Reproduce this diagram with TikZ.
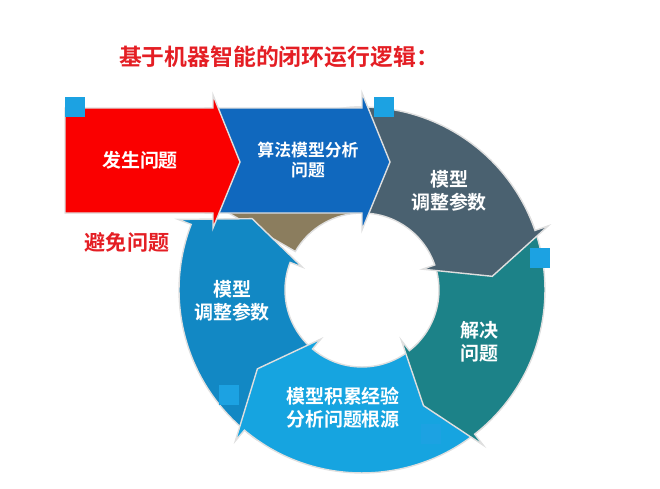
\documentclass[tikz,border=0pt]{standalone}
\usepackage{fontspec}
\newfontfamily\cjk{Noto Sans CJK SC Bold}
\usepackage{xcolor}
\usetikzlibrary{calc}

\definecolor{titlered}{RGB}{228,30,36}
\definecolor{arrowred}{RGB}{250,0,0}
\definecolor{arrowblue}{RGB}{16,104,190}
\definecolor{segslate}{RGB}{74,97,112}
\definecolor{segteal}{RGB}{28,130,136}
\definecolor{segblue}{RGB}{18,136,196}
\definecolor{seglight}{RGB}{22,164,224}
\definecolor{segkhaki}{RGB}{139,125,94}
\definecolor{handlecyan}{RGB}{28,162,226}

\newcommand{\ringRo}{3.66cm}
\newcommand{\ringRi}{1.54cm}
\newcommand{\ringRm}{2.62cm}
\newcommand{\ringSo}{3.94cm}
\newcommand{\ringSi}{1.28cm}
% colour, tail angle, head base angle, head tip angle
\newcommand{\ringpart}[4]{%
  \filldraw[fill=#1, ring] (#2:\ringRo) arc[start angle=#2, end angle=#3, radius=\ringRo]
    -- (#3:\ringSo) -- (#4:\ringRm) -- (#3:\ringSi) -- (#3:\ringRi)
    arc[start angle=#3, end angle=#2, radius=\ringRi] -- cycle;}

\begin{document}
\begin{tikzpicture}[x=0.02cm, y=0.02cm,
    ring/.style={draw=gray!25, line width=0.8pt},
    bararrow/.style={draw=white!75!gray, line width=0.8pt},
    label/.style={text=white, align=center, font=\cjk\fontsize{10.8}{13}\selectfont},
    handle/.style={fill=handlecyan, minimum size=0.4cm, inner sep=0pt}
]
\useasboundingbox (0,0) rectangle (660,488);

% ring around (362,198)
\begin{scope}[shift={(362,198)}]
\filldraw[fill=segkhaki, ring] (150:\ringRo) arc[start angle=150, end angle=90, radius=\ringRo]
  -- (90:\ringRi) arc[start angle=90, end angle=150, radius=\ringRi] -- cycle;
\ringpart{segblue}{-125}{-201}{-213}
\ringpart{seglight}{-45}{-130}{-143}
\ringpart{segteal}{25}{-52}{-62}
\ringpart{segslate}{95}{19}{6}
\end{scope}

% straight arrows
\filldraw[fill=arrowblue, bararrow] (205,380) -- (362,380) -- (362,395) -- (390,326)
  -- (362,258) -- (362,275) -- (205,275) -- cycle;
\filldraw[fill=arrowred, bararrow] (65,380) -- (213,380) -- (213,393) -- (240,326)
  -- (213,260) -- (213,275) -- (65,275) -- cycle;

% handles
\node[handle] (h1) at (75,381) {};
\node[handle] (h2) at (384,381) {};
\node[handle] (h3) at (540,230) {};
\node[handle] (h4) at (229,93) {};
\node[handle] (h5) at (431,54) {};

\node[text=titlered, font=\cjk\fontsize{13}{15}\selectfont] (title) at (279,431) {基于机器智能的闭环运行逻辑：};
\node[label] (occur) at (140,328) {发生问题};
\node[label, font=\cjk\fontsize{9.6}{11.3}\selectfont] (analyse) at (308,328) {算法模型分析\\问题};
\node[label] (tune) at (449,297) {模型\\调整参数};
\node[text=titlered, font=\cjk\fontsize{12}{14}\selectfont] (avoid) at (127,246) {避免问题};
\node[label] (tuneb) at (232,187) {模型\\调整参数};
\node[label] (solve) at (479,146) {解决\\问题};
\node[label] (learn) at (343,80) {模型积累经验\\分析问题根源};
\end{tikzpicture}
\end{document}
